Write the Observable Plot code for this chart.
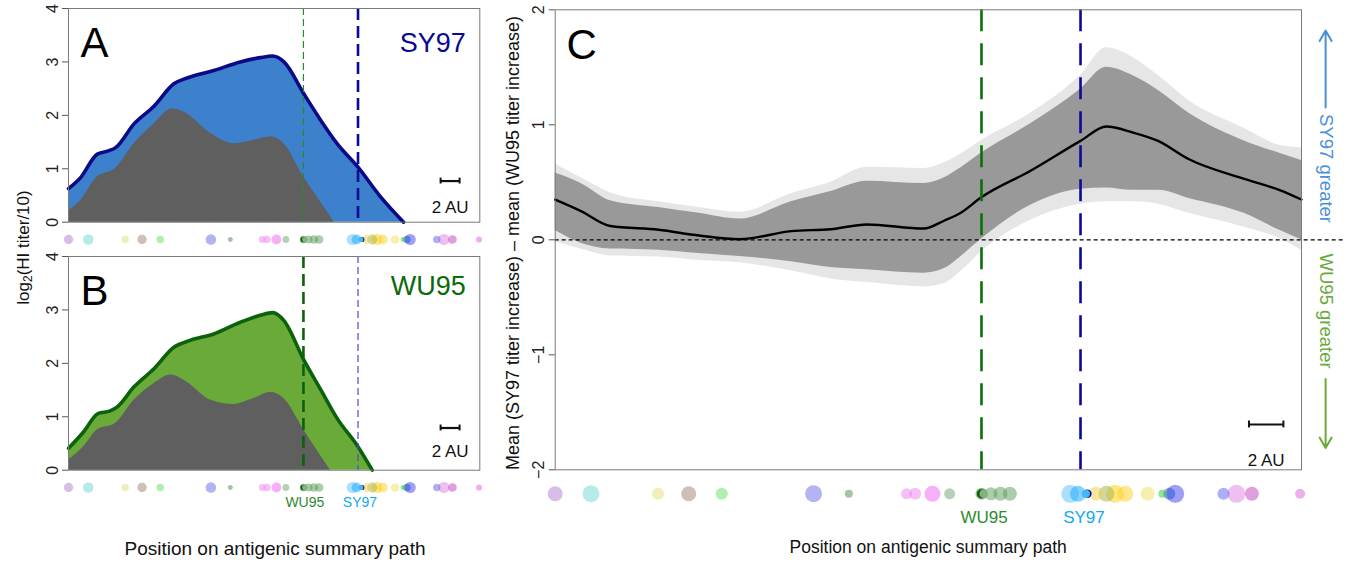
<!DOCTYPE html>
<html><head><meta charset="utf-8">
<script src="https://cdn.jsdelivr.net/npm/d3@7"></script>
<script src="https://cdn.jsdelivr.net/npm/@observablehq/plot@0.6"></script>
<style>
body{margin:0;background:#fff;}
#root{position:relative;width:1350px;height:563px;overflow:hidden;font-family:"Liberation Sans",Arial,Helvetica,sans-serif;}
.lbl{position:absolute;white-space:nowrap;color:#111;line-height:1;}
</style></head><body><div id="root"></div>
<script>
// ---------- DATA (positions in antigenic units along the summary path) ----------
const refNames = ["WU95", "SY97"];
const refPos = [24.75, 30.5];
const refLabelPos = [24.9, 30.7];
const refLabelColors = ["#2f8a2f", "#12a8f0"];

// Panel A (SY97 serum)
const posA = [0, 1.3, 3.0, 4.1, 5.0, 6.9, 9.0, 11.1, 12.5, 15.3, 18.1, 20.2, 21.5, 22.7, 24.8, 26.6, 28.3, 30.5, 32.9, 35.3];
const sy97Total = [0.63, 0.84, 1.27, 1.33, 1.40, 1.84, 2.17, 2.59, 2.70, 2.84, 3.00, 3.08, 3.11, 3.00, 2.40, 1.90, 1.47, 1.03, 0.47, 0.00];
const posAGray = [0, 1.3, 3.0, 4.9, 6.9, 9.0, 10.9, 12.2, 15.0, 17.4, 19.5, 21.3, 22.7, 24.8, 26.2, 28.0];
const sy97Gray = [0.21, 0.41, 0.84, 1.00, 1.47, 1.84, 2.12, 2.06, 1.66, 1.47, 1.53, 1.60, 1.47, 0.84, 0.47, 0.00];

// Panel B (WU95 serum)
const posB = [0, 1.6, 3.1, 4.4, 5.1, 6.9, 9.0, 11.1, 12.8, 15.3, 18.1, 20.2, 21.5, 22.7, 24.8, 26.6, 28.3, 30.5, 32.0];
const wu95Total = [0.41, 0.72, 1.06, 1.11, 1.18, 1.56, 1.90, 2.30, 2.43, 2.55, 2.77, 2.90, 2.95, 2.80, 2.06, 1.50, 0.97, 0.44, 0.00];
const posBGray = [0, 1.6, 3.1, 4.9, 6.9, 9.0, 10.8, 12.2, 15.0, 17.4, 19.5, 21.3, 22.7, 24.8, 26.2, 27.6];
const wu95Gray = [0.19, 0.44, 0.76, 0.87, 1.31, 1.62, 1.78, 1.68, 1.31, 1.23, 1.34, 1.46, 1.34, 0.75, 0.37, 0.00];

// Panel C (difference of means with intervals)
const posC = [0, 1.5, 3.2, 6.0, 8.35, 10.7, 13.7, 16.0, 18.1, 21.4, 22.6, 23.6, 24.7, 27.6, 30.5, 32.0, 33.5, 35.0, 36.8, 40.0, 42.1, 43.33];
const meanDiff = [0.35, 0.25, 0.12, 0.087, 0.037, 0.005, 0.075, 0.092, 0.133, 0.098, 0.168, 0.24, 0.365, 0.60, 0.86, 0.985, 0.935, 0.86, 0.70, 0.53, 0.43, 0.35];
const innerHi = [0.58, 0.49, 0.34, 0.28, 0.23, 0.18, 0.33, 0.42, 0.51, 0.49, 0.54, 0.63, 0.75, 1.01, 1.31, 1.50, 1.43, 1.30, 1.10, 0.86, 0.75, 0.69];
const outerHi = [0.66, 0.54, 0.41, 0.33, 0.28, 0.24, 0.40, 0.50, 0.63, 0.62, 0.67, 0.75, 0.86, 1.10, 1.43, 1.67, 1.59, 1.43, 1.21, 0.97, 0.82, 0.80];
const innerLo = [0.08, -0.03, -0.08, -0.09, -0.12, -0.145, -0.19, -0.24, -0.26, -0.29, -0.25, -0.14, 0.0, 0.30, 0.44, 0.45, 0.43, 0.43, 0.36, 0.23, 0.08, 0.0];
const outerLo = [-0.02, -0.08, -0.14, -0.15, -0.18, -0.20, -0.27, -0.34, -0.37, -0.41, -0.38, -0.27, -0.11, 0.17, 0.31, 0.33, 0.33, 0.31, 0.23, 0.11, 0.01, -0.09];

// Antigens along the path (position, colour, radius in panel C)
const dotPos = [0, 2.08, 5.97, 7.75, 9.67, 15.0, 17.05, 20.4, 20.9, 21.9, 22.9, 24.75, 25.3, 25.85, 26.4, 29.9, 30.35, 31.4, 32.0, 32.5, 33.1, 34.4, 35.25, 35.65, 36.0, 38.8, 39.55, 40.45, 43.25];
const dotColors = ["#b07cd0", "#6ed8d0", "#e0e070", "#a08070", "#60e060", "#6a6ae8", "#4a8a4a", "#f080f0", "#f080f0", "#f060f0", "#70a070", "#2f7a2f", "#5a995a", "#5a995a", "#5a995a", "#5ac0ff", "#10a8ff", "#f0d040", "#a0b050", "#ffd000", "#ffd020", "#f0e060", "#20d020", "#2050d0", "#4040f0", "#6060f0", "#e080e0", "#c040c0", "#e060e0"];
const dotRadius = [7.5, 8.5, 6, 7.5, 6, 8.5, 4, 5.5, 6, 8, 5.5, 6, 6.5, 7, 7, 9, 8, 7, 8, 9, 8, 7, 4, 6, 9, 6, 9, 7, 5];

const yTicksAB = [0, 1, 2, 3, 4];
const yTicksC = [-2, -1, 0, 1, 2];
const scaleBarAU = 2;

// ---------- BUILD ----------
const root = document.getElementById("root");
const FONT = '"Liberation Sans", Arial, Helvetica, sans-serif';
const fmtInt = d3.format("d");
const toXY = (xs, ys) => xs.map((x, i) => ({x, y: ys[i]}));
const dots = dotPos.map((p, i) => ({pos: p, col: dotColors[i], r: dotRadius[i]}));
const refs = refPos.map((p, i) => ({pos: p, lpos: refLabelPos[i], name: refNames[i], col: refLabelColors[i]}));

function place(svg, left, top) {
  svg.style.position = "absolute";
  svg.style.left = left + "px";
  svg.style.top = top + "px";
  svg.style.overflow = "visible";
  root.appendChild(svg);
}

function stripMarks(k, dy) {
  return [
    Plot.dot(dots, {x: "pos", r: d => d.r * k, fill: "col", fillOpacity: 0.5, frameAnchor: "bottom", dy}),
    Plot.dot([refPos[0]], {x: d => d, r: 4.6 * k, fill: "#0b5a0b", frameAnchor: "bottom", dy}),
    Plot.dot([refPos[0]], {x: d => d, r: 4.3 * k, fill: "#7fb47f", frameAnchor: "bottom", dy, dx: 2.2 * k}),
    Plot.dot([refPos[1] + 0.4], {x: d => d, r: 4.2 * k, fill: "#0a0a80", frameAnchor: "bottom", dy}),
    Plot.dot([refPos[1] + 0.4], {x: d => d, r: 4.2 * k, fill: "#46b6f8", frameAnchor: "bottom", dy, dx: -1.6 * k})
  ];
}

function scaleBar(x0, yBar, yText, halfTick, fs) {
  const bar = [{x1: x0, x2: x0 + scaleBarAU, y: yBar}];
  const ends = [x0, x0 + scaleBarAU];
  return [
    Plot.ruleY(bar, {x1: "x1", x2: "x2", y: "y", stroke: "#111", strokeWidth: 2.2}),
    Plot.ruleX(ends, {x: d => d, y1: yBar - halfTick, y2: yBar + halfTick, stroke: "#111", strokeWidth: 2}),
    Plot.text(bar, {x: d => (d.x1 + d.x2) / 2, y: () => yText, text: () => scaleBarAU + " AU", fontSize: fs, fill: "#111"})
  ];
}

function panelAB(o) {
  const tot = toXY(o.pos, o.total);
  const gr = toXY(o.grayPos, o.gray);
  return Plot.plot({
    width: 490, height: o.height,
    marginLeft: 68, marginRight: 10.7, marginTop: 8, marginBottom: o.height - 8 - 213.7,
    x: {domain: [0, 43.33], axis: null},
    y: {domain: [0, 4]},
    r: {type: "identity"},
    style: {fontFamily: FONT, fontSize: "15px", background: "transparent", overflow: "visible", color: "#222"},
    marks: [
      Plot.areaY(tot, {x: "x", y: "y", fill: o.fill, curve: "monotone-x"}),
      Plot.areaY(gr, {x: "x", y: "y", fill: "#5f5f5f", curve: "monotone-x"}),
      Plot.line(tot, {x: "x", y: "y", stroke: o.line, strokeWidth: 3.6, curve: "monotone-x", strokeLinejoin: "round"}),
      Plot.ruleX([refPos[0]], {x: d => d, stroke: o.wuStroke, strokeWidth: o.wuW, strokeDasharray: o.wuDash}),
      Plot.ruleX([refPos[1]], {x: d => d, stroke: o.syStroke, strokeWidth: o.syW, strokeDasharray: o.syDash}),
      Plot.frame({stroke: "#7a7a7a", strokeWidth: 1}),
      Plot.axisY({ticks: yTicksAB, tickFormat: fmtInt, label: null, tickSize: 6, tickPadding: 5, tickRotate: -90, fontSize: 16, stroke: "#555", fill: "#222"}),
      Plot.text([o.letter], {text: d => d, frameAnchor: "top-left", dx: 12, dy: 19, lineAnchor: "top", textAnchor: "start", fontSize: 42, fill: "#000"}),
      Plot.text([o.title], {text: d => d, frameAnchor: "top-right", dx: -14, dy: o.titleDy, lineAnchor: "top", textAnchor: "end", fontSize: 27, fill: o.titleColor}),
      ...scaleBar(39.2, o.barY, o.barTextY, 0.055, 17),
      ...stripMarks(0.62, 17.3),
      ...(o.labels ? [Plot.text(refs, {x: "lpos", text: "name", fill: "col", frameAnchor: "bottom", dy: 37, fontSize: 14})] : [])
    ]
  });
}

place(panelAB({
  height: 250, pos: posA, total: sy97Total, grayPos: posAGray, gray: sy97Gray,
  fill: "#3d80cc", line: "#0a0a88", letter: "A", title: "SY97", titleColor: "#0a0a90", titleDy: 24,
  wuStroke: "#2a8a2a", wuW: 1.2, wuDash: "7,4", syStroke: "#0a0a9a", syW: 2.6, syDash: "12,6",
  barY: 0.77, barTextY: 0.28, labels: false
}), 0, 0);

place(panelAB({
  height: 270, pos: posB, total: wu95Total, grayPos: posBGray, gray: wu95Gray,
  fill: "#6aaa38", line: "#0b620b", letter: "B", title: "WU95", titleColor: "#0b6a0b", titleDy: 19,
  wuStroke: "#0b620b", wuW: 2.6, wuDash: "12,6", syStroke: "#4a4ad0", syW: 1.2, syDash: "7,4",
  barY: 0.79, barTextY: 0.34, labels: true
}), 0, 248);

// Panel C
const cData = posC.map((x, i) => ({x, mean: meanDiff[i], iHi: innerHi[i], iLo: innerLo[i], oHi: outerHi[i], oLo: outerLo[i]}));
const zeroLine = [{y: 0, x1: 0, x2: 45.9}];
const arrows = [
  {x: 44.73, y1: 1.15, y2: 1.82, col: "#4a90d9"},
  {x: 44.73, y1: -1.21, y2: -1.81, col: "#6aaa3a"}
];
const sideText = [
  {x: 44.73, y: 0.62, t: "SY97 greater", col: "#4a90d9"},
  {x: 44.73, y: -0.62, t: "WU95 greater", col: "#6aaa3a"}
];
const hC = 535;
place(Plot.plot({
  width: 850, height: hC,
  marginLeft: 54.7, marginRight: 49, marginTop: 9.3, marginBottom: hC - 469.3,
  x: {domain: [0, 43.33], axis: null},
  y: {domain: [-2, 2]},
  r: {type: "identity"},
  style: {fontFamily: FONT, fontSize: "15px", background: "transparent", overflow: "visible", color: "#222"},
  marks: [
    Plot.areaY(cData, {x: "x", y1: "oLo", y2: "oHi", fill: "#e6e6e6", curve: "monotone-x"}),
    Plot.areaY(cData, {x: "x", y1: "iLo", y2: "iHi", fill: "#999999", curve: "monotone-x"}),
    Plot.line(cData, {x: "x", y: "mean", stroke: "#000", strokeWidth: 2.4, curve: "monotone-x"}),
    Plot.ruleX([refPos[0]], {x: d => d, stroke: "#0a700a", strokeWidth: 2.6, strokeDasharray: "22,12"}),
    Plot.ruleX([refPos[1]], {x: d => d, stroke: "#0a0a9a", strokeWidth: 2.6, strokeDasharray: "22,12"}),
    Plot.ruleY(zeroLine, {y: "y", x1: "x1", x2: "x2", stroke: "#000", strokeWidth: 1.2, strokeDasharray: "4,3"}),
    Plot.frame({stroke: "#7a7a7a", strokeWidth: 1}),
    Plot.axisY({ticks: yTicksC, tickFormat: fmtInt, label: null, tickSize: 6, tickPadding: 5, tickRotate: -90, fontSize: 16, stroke: "#555", fill: "#222"}),
    Plot.text(["C"], {text: d => d, frameAnchor: "top-left", dx: 11.3, dy: 19, lineAnchor: "top", textAnchor: "start", fontSize: 42, fill: "#000"}),
    ...scaleBar(40.28, -1.606, -1.92, 0.03, 17),
    ...stripMarks(1, 24),
    Plot.text(refs, {x: "lpos", text: "name", fill: "col", frameAnchor: "bottom", dy: 53, fontSize: 17}),
    Plot.arrow(arrows, {x1: "x", x2: "x", y1: "y1", y2: "y2", stroke: "col", strokeWidth: 2, headLength: 9}),
    Plot.text(sideText, {x: "x", y: "y", text: "t", fill: "col", rotate: 90, fontSize: 18.5})
  ]
}), 500, 0);

// Axis titles (HTML text)
function label(text, cx, cy, fs, rot) {
  const d = document.createElement("div");
  d.className = "lbl";
  d.style.fontSize = fs + "px";
  d.innerHTML = text;
  root.appendChild(d);
  const w = d.offsetWidth, h = d.offsetHeight;
  d.style.left = (cx - w / 2) + "px";
  d.style.top = (cy - h / 2) + "px";
  if (rot) d.style.transform = "rotate(" + rot + "deg)";
}
label("log<sub style='font-size:12px;vertical-align:-3px'>2</sub>(HI titer/10)", 23.5, 247, 17, -90);
label("Mean (SY97 titer increase) \u2013 mean (WU95 titer increase)", 513, 243, 18, -90);
label("Position on antigenic summary path", 275, 548, 19, 0);
label("Position on antigenic summary path", 928, 548, 17.5, 0);
</script></body></html>
